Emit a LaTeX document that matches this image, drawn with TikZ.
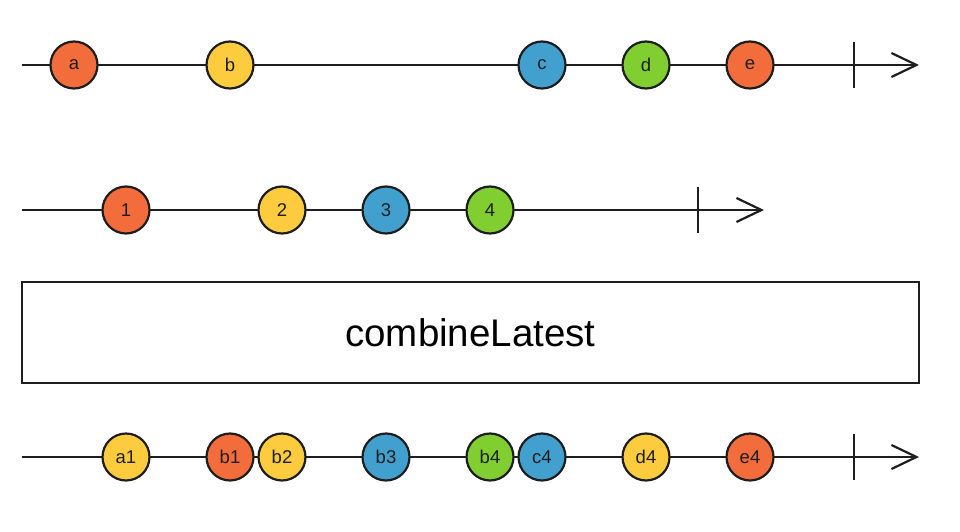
\documentclass[tikz,border=0pt]{standalone}
\usepackage{fontspec}
\setmainfont{Liberation Sans}
\usetikzlibrary{arrows.meta}
\definecolor{morange}{RGB}{242,108,60}
\definecolor{myellow}{RGB}{252,203,62}
\definecolor{mblue}{RGB}{66,160,206}
\definecolor{mgreen}{RGB}{128,206,48}
\definecolor{mline}{RGB}{30,30,30}
\tikzset{
  marble/.style={circle, draw=mline, line width=2.2pt, minimum size=47pt, inner sep=0pt, font=\fontsize{18.5}{18.5}\selectfont, text=mline},
  timeline/.style={draw=mline, line width=2.2pt, -{Straight Barb[length=25pt,width=24pt,line width=2.2pt]}},
  endtick/.style={draw=mline, line width=2.2pt},
  opbox/.style={draw=mline, line width=2.5pt, minimum width=897pt, minimum height=101pt, inner sep=0pt, font=\fontsize{38.5}{38.5}\selectfont}
}
\begin{document}
\begin{tikzpicture}[x=1pt,y=-1pt]
\useasboundingbox (0,0) rectangle (960,532);
% row 1
\coordinate (s1) at (22,65);
\coordinate (e1) at (919,65);
\coordinate (t1a) at (854,42);
\coordinate (t1b) at (854,88);
\draw[timeline] (s1) -- (e1);
\draw[endtick] (t1a) -- (t1b);
\node[marble, fill=morange] (a) at (74,65) {a};
\node[marble, fill=myellow] (b) at (230,65) {b};
\node[marble, fill=mblue] (c) at (542,65) {c};
\node[marble, fill=mgreen] (d) at (646,65) {d};
\node[marble, fill=morange] (e) at (750,65) {e};
% row 2
\coordinate (s2) at (22,210);
\coordinate (e2) at (764,210);
\coordinate (t2a) at (698,187);
\coordinate (t2b) at (698,233);
\draw[timeline] (s2) -- (e2);
\draw[endtick] (t2a) -- (t2b);
\node[marble, fill=morange] (n1) at (126,210) {1};
\node[marble, fill=myellow] (n2) at (282,210) {2};
\node[marble, fill=mblue] (n3) at (386,210) {3};
\node[marble, fill=mgreen] (n4) at (490,210) {4};
% operator box
\node[opbox] (op) at (470.5,332.5) {combineLatest};
% row 3
\coordinate (s3) at (22,457);
\coordinate (e3) at (919,457);
\coordinate (t3a) at (854,434);
\coordinate (t3b) at (854,480);
\draw[timeline] (s3) -- (e3);
\draw[endtick] (t3a) -- (t3b);
\node[marble, fill=myellow] (a1) at (126,457) {a1};
\node[marble, fill=morange] (b1) at (230,457) {b1};
\node[marble, fill=myellow] (b2) at (282,457) {b2};
\node[marble, fill=mblue] (b3) at (386,457) {b3};
\node[marble, fill=mgreen] (b4) at (490,457) {b4};
\node[marble, fill=mblue] (c4) at (542,457) {c4};
\node[marble, fill=myellow] (d4) at (646,457) {d4};
\node[marble, fill=morange] (e4) at (750,457) {e4};
\end{tikzpicture}
\end{document}
